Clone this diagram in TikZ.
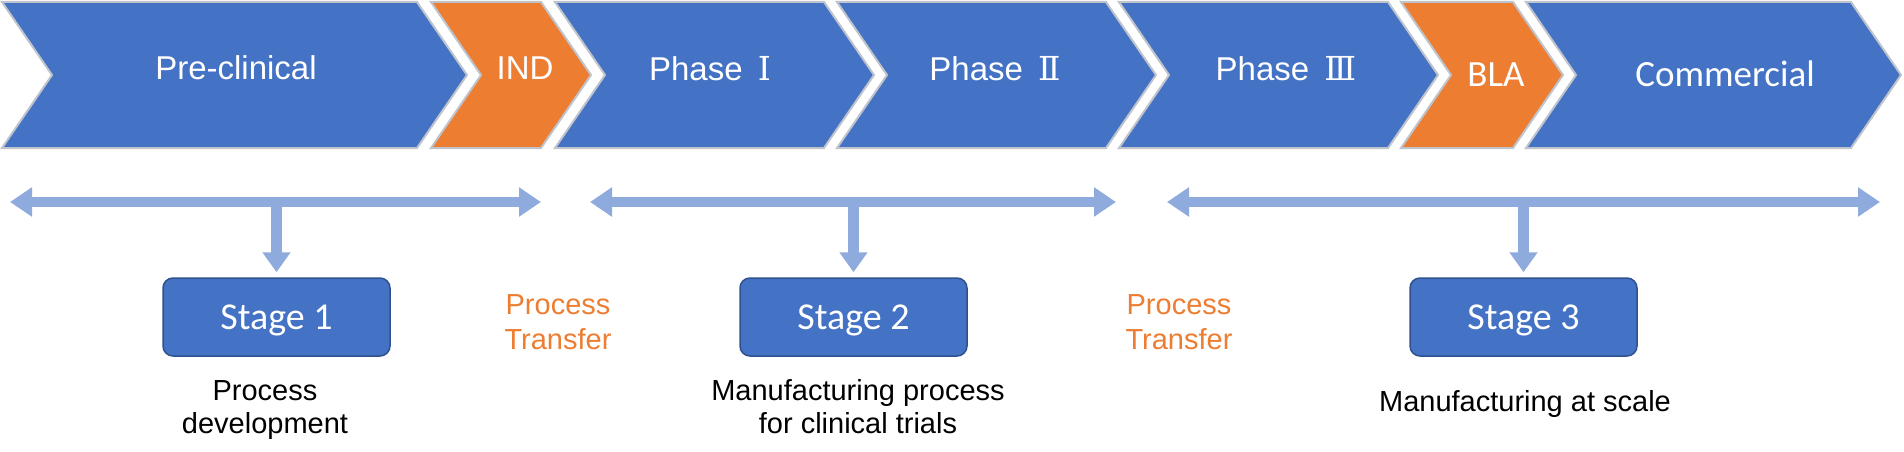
\documentclass[tikz,border=0pt]{standalone}
\usepackage{fontspec}
\setmainfont{Liberation Sans}
\newfontfamily\calfont{Carlito}
\newfontfamily\numfont{DejaVu Serif}
\usetikzlibrary{arrows.meta}
\definecolor{cblue}{HTML}{4472C4}
\definecolor{corange}{HTML}{ED7D31}
\definecolor{cedge}{HTML}{BFC3CB}
\definecolor{aline}{HTML}{8FAADC}
\definecolor{bedge}{HTML}{2F528F}
\newcommand\chevshape[3]{\draw[chev, fill=#3] (#1,2) -- (#2,2) -- ({#2+50},75) -- (#2,148) -- (#1,148) -- ({#1+50},75) -- cycle;}
\begin{document}
\begin{tikzpicture}[x=1pt,y=-1pt,
 chev/.style={draw=cedge, line width=2pt, line join=miter},
 chevtext/.style={text=white, anchor=base, inner sep=0pt, font=\fontsize{33}{40}\selectfont},
 caltext/.style={text=white, anchor=base, inner sep=0pt, font=\calfont\fontsize{37}{44}\selectfont},
 bar/.style={draw=aline, line width=10pt, {Triangle[width=28pt,length=22pt]}-{Triangle[width=28pt,length=22pt]}},
 stem/.style={draw=aline, line width=11pt, -{Triangle[width=27pt,length=20pt]}, shorten >=5pt},
 stagebox/.style={draw=bedge, line width=1.5pt, fill=cblue, rounded corners=10pt, minimum width=227pt, minimum height=78pt, text depth=0pt, text=white, font=\calfont\fontsize{38}{45}\selectfont},
 ptext/.style={text=corange, align=center, font=\fontsize{29}{35}\selectfont, inner sep=0pt},
 dtext/.style={text=black, align=center, font=\fontsize{29}{33}\selectfont, inner sep=0pt}
]
\useasboundingbox (0,0) rectangle (1904,452);
% chevrons
\chevshape{2}{417}{cblue}
\chevshape{431}{541}{corange}
\chevshape{555}{824}{cblue}
\chevshape{837}{1106}{cblue}
\chevshape{1119}{1388}{cblue}
\chevshape{1401}{1513}{corange}
\chevshape{1526}{1851}{cblue}
\node[chevtext] (pre) at (236,80) {Pre-clinical};
\node[chevtext] (ind) at (525,80) {IND};
\node[chevtext] (p1) at (710,81) {Phase \hspace{6pt}{\numfont Ⅰ}};
\node[chevtext] (p2) at (995,81) {Phase \hspace{6pt}{\numfont Ⅱ}};
\node[chevtext] (p3) at (1286,81) {Phase \hspace{6pt}{\numfont Ⅲ}};
\node[caltext] (bla) at (1496,86) {BLA};
\node[caltext] (com) at (1725,86) {Commercial};
% stage boxes
\node[stagebox] (s1) at (276.5,317) {Stage 1};
\node[stagebox] (s2) at (853.5,317) {Stage 2};
\node[stagebox] (s3) at (1523.5,317) {Stage 3};
% bars
\coordinate (a1l) at (10,202);
\coordinate (a1r) at (541,202);
\coordinate (a2l) at (590,202);
\coordinate (a2r) at (1116,202);
\coordinate (a3l) at (1167,202);
\coordinate (a3r) at (1880,202);
\draw[bar] (a1l) -- (a1r);
\draw[bar] (a2l) -- (a2r);
\draw[bar] (a3l) -- (a3r);
\draw[stem] (s1.north |- a1l) -- (s1.north);
\draw[stem] (s2.north |- a2l) -- (s2.north);
\draw[stem] (s3.north |- a3l) -- (s3.north);
% labels
\node[ptext] (t1) at (558,322) {Process\\Transfer};
\node[ptext] (t2) at (1179,322) {Process\\Transfer};
\node[dtext] (d1) at (265,410) {Process\\development};
\node[dtext] (d2) at (858,407) {Manufacturing process\\for clinical trials};
\node[dtext, anchor=base] (d3) at (1525,411) {Manufacturing at scale};
\end{tikzpicture}
\end{document}
